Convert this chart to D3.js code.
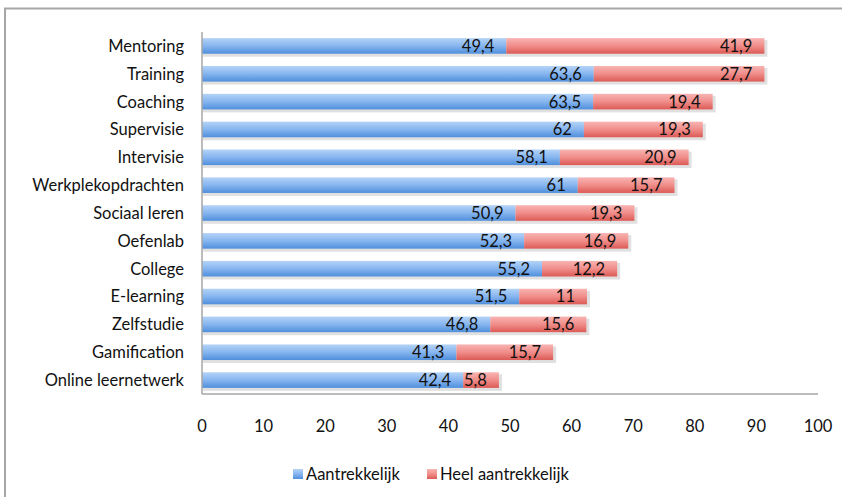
<!DOCTYPE html>
<html>
<head>
<meta charset="utf-8">
<script src="https://cdn.jsdelivr.net/npm/d3@7"></script>
<style>
  body { margin: 0; background: #fff; }
  text { font-family: "Lato", "Liberation Sans", sans-serif; fill: #111; }
</style>
</head>
<body>
<svg id="chart" width="842" height="497"></svg>
<script>
const categories = ['Mentoring', 'Training', 'Coaching', 'Supervisie', 'Intervisie', 'Werkplekopdrachten',
    'Sociaal leren', 'Oefenlab', 'College', 'E-learning', 'Zelfstudie', 'Gamification', 'Online leernetwerk'];
const aantrekkelijk = [49.4, 63.6, 63.5, 62, 58.1, 61, 50.9, 52.3, 55.2, 51.5, 46.8, 41.3, 42.4];
const heelAantrekkelijk = [41.9, 27.7, 19.4, 19.3, 20.9, 15.7, 19.3, 16.9, 12.2, 11, 15.6, 15.7, 5.8];
const seriesNames = ['Aantrekkelijk', 'Heel aantrekkelijk'];
const xTicks = [0, 10, 20, 30, 40, 50, 60, 70, 80, 90, 100];

const svg = d3.select('#chart');
const fmt = (v) => String(v).replace('.', ',');
const fontSize = 16.5;

// outer frame
svg.append('rect')
    .attr('x', 5).attr('y', 8.5)
    .attr('width', 900).attr('height', 600)
    .attr('fill', 'none').attr('stroke', '#a6a6a6').attr('stroke-width', 2);

const defs = svg.append('defs');
const grads = [
    { id: 'gBlue', stops: ['#b4d3f7', '#86b5ef', '#4f8fdc'] },
    { id: 'gRed', stops: ['#f8b4b2', '#f08d8a', '#dc5a55'] },
];
grads.forEach((g) => {
    const lg = defs.append('linearGradient').attr('id', g.id)
        .attr('x1', 0).attr('y1', 0).attr('x2', 0).attr('y2', 1);
    g.stops.forEach((c, i) => lg.append('stop').attr('offset', i / 2).attr('stop-color', c));
});

const x = d3.scaleLinear().domain([0, 100]).range([202, 818]);
const y = d3.scaleBand().domain(categories).range([32, 394]).paddingInner(0.44).paddingOuter(0.22);

const rows = categories.map((c, i) => ({ cat: c, a: aantrekkelijk[i], h: heelAantrekkelijk[i] }));

// shadows
svg.append('g').selectAll('rect')
    .data(rows)
    .join('rect')
    .attr('x', x(0) + 1)
    .attr('y', (d) => y(d.cat) + 2)
    .attr('width', (d) => x(d.a + d.h) - x(0) + 2)
    .attr('height', y.bandwidth() + 1)
    .attr('fill', '#000')
    .attr('opacity', 0.12);

const bars = svg.append('g');
bars.selectAll('rect.a')
    .data(rows)
    .join('rect')
    .attr('class', 'a')
    .attr('x', x(0))
    .attr('y', (d) => y(d.cat))
    .attr('width', (d) => x(d.a) - x(0))
    .attr('height', y.bandwidth())
    .attr('fill', 'url(#gBlue)');
bars.selectAll('rect.h')
    .data(rows)
    .join('rect')
    .attr('class', 'h')
    .attr('x', (d) => x(d.a))
    .attr('y', (d) => y(d.cat))
    .attr('width', (d) => x(d.a + d.h) - x(d.a))
    .attr('height', y.bandwidth())
    .attr('fill', 'url(#gRed)');

// value labels
const labels = svg.append('g').attr('font-size', fontSize).attr('text-anchor', 'end');
labels.selectAll('text.a')
    .data(rows)
    .join('text')
    .attr('class', 'a')
    .attr('x', (d) => x(d.a) - 12)
    .attr('y', (d) => y(d.cat) + y.bandwidth() / 2)
    .attr('dy', '0.36em')
    .text((d) => fmt(d.a));
labels.selectAll('text.h')
    .data(rows)
    .join('text')
    .attr('class', 'h')
    .attr('x', (d) => x(d.a + d.h) - 12)
    .attr('y', (d) => y(d.cat) + y.bandwidth() / 2)
    .attr('dy', '0.36em')
    .text((d) => fmt(d.h));

// axes lines
svg.append('line')
    .attr('x1', x(0)).attr('x2', x(0)).attr('y1', 32).attr('y2', 394)
    .attr('stroke', '#a6a6a6').attr('stroke-width', 1.5);
svg.append('line')
    .attr('x1', x(0)).attr('x2', x(100)).attr('y1', 394).attr('y2', 394)
    .attr('stroke', '#a6a6a6').attr('stroke-width', 1.5);

// category labels
svg.append('g').attr('font-size', fontSize).attr('text-anchor', 'end')
    .selectAll('text')
    .data(categories)
    .join('text')
    .attr('x', 184)
    .attr('y', (d) => y(d) + y.bandwidth() / 2)
    .attr('dy', '0.36em')
    .text((d) => d);

// x tick labels
svg.append('g').attr('font-size', fontSize).attr('text-anchor', 'middle')
    .selectAll('text')
    .data(xTicks)
    .join('text')
    .attr('x', (d) => x(d))
    .attr('y', 426)
    .attr('dy', '0.36em')
    .text((d) => d);

// legend
const legend = svg.append('g').attr('font-size', fontSize);
const legendX = [293, 427];
const legendFill = ['url(#gBlue)', 'url(#gRed)'];
seriesNames.forEach((name, i) => {
    legend.append('rect')
        .attr('x', legendX[i]).attr('y', 469)
        .attr('width', 10).attr('height', 10)
        .attr('fill', legendFill[i]);
    legend.append('text')
        .attr('x', legendX[i] + 13)
        .attr('y', 474)
        .attr('dy', '0.36em')
        .text(name);
});
</script>
</body>
</html>
